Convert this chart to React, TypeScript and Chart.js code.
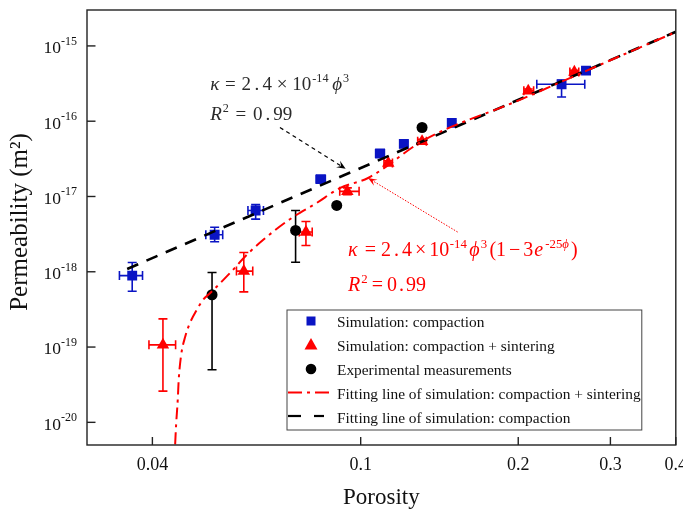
import React, { useEffect, useRef } from "react";
import { Chart, registerables } from "chart.js";

Chart.register(...registerables);

// ---------- Data: Simulation: compaction ----------
const compPorosity = [0.0366, 0.0526, 0.063, 0.0839, 0.1089, 0.1209, 0.1493, 0.242, 0.2695];
const compPerm = [8.9e-19, 3.1e-18, 6.5e-18, 1.7e-17, 3.72e-17, 5.0e-17, 9.5e-17, 3.1e-16, 4.7e-16];
const compPorosityLow = [0.0346, 0.0506, 0.0609, 0.0822, 0.1068, 0.1188, 0.147, 0.217, 0.265];
const compPorosityHigh = [0.0383, 0.0545, 0.0652, 0.0856, 0.111, 0.123, 0.1515, 0.268, 0.274];
const compPermLow = [5.5e-19, 2.5e-18, 5.0e-18, 1.58e-17, 3.45e-17, 4.65e-17, 8.9e-17, 2.1e-16, 4.45e-16];
const compPermHigh = [1.33e-18, 3.9e-18, 7.8e-18, 1.83e-17, 4.0e-17, 5.35e-17, 1.01e-16, 3.5e-16, 4.95e-16];

// ---------- Data: Simulation: compaction + sintering ----------
const sintPorosity = [0.0419, 0.0598, 0.0786, 0.0943, 0.1129, 0.131, 0.209, 0.256];
const sintPerm = [1.07e-19, 1.02e-18, 3.37e-18, 1.17e-17, 2.78e-17, 5.4e-17, 2.53e-16, 4.5e-16];
const sintPorosityLow = [0.0394, 0.0579, 0.0763, 0.0912, 0.1108, 0.1285, 0.205, 0.251];
const sintPorosityHigh = [0.0443, 0.0622, 0.0808, 0.0993, 0.115, 0.1335, 0.214, 0.261];
const sintPermLow = [2.6e-20, 5.4e-19, 2.23e-18, 1.06e-17, 2.6e-17, 5.05e-17, 2.38e-16, 4.25e-16];
const sintPermHigh = [2.37e-19, 1.8e-18, 4.66e-18, 1.3e-17, 2.98e-17, 5.75e-17, 2.68e-16, 4.75e-16];

// ---------- Data: Experimental measurements ----------
const expPorosity = [0.052, 0.0751, 0.09, 0.131];
const expPerm = [4.95e-19, 3.54e-18, 7.6e-18, 8.25e-17];
const expPermLow = [5.0e-20, 1.34e-18, null, null];
const expPermHigh = [9.8e-19, 6.5e-18, null, null];

// ---------- Fitting lines ----------
const fitCompPorosity = [0.0358, 0.4];
const fitCompPerm = [1.09e-18, 1.54e-15];
const fitSintPorosity = [0.04421, 0.0444, 0.04472, 0.04491, 0.0454, 0.04622, 0.04703, 0.04864, 0.05, 0.05159, 0.05628, 0.06058, 0.06515, 0.07325, 0.08233, 0.0912, 0.1033, 0.1324, 0.2, 0.3, 0.4];
const fitSintPerm = [5.1e-21, 9.3e-21, 2.0e-20, 3.68e-20, 7.9e-20, 1.38e-19, 1.98e-19, 3.13e-19, 4.25e-19, 5.21e-19, 9.62e-19, 1.68e-18, 2.66e-18, 4.99e-18, 8.17e-18, 1.29e-17, 1.76e-17, 5.66e-17, 1.88e-16, 6.45e-16, 1.53e-15];

// ---------- Axes ----------
const xTickValues = [0.04, 0.1, 0.2, 0.3, 0.4];
const xTickLabels = ["0.04", "0.1", "0.2", "0.3", "0.4"];
const yTickValues = [1e-20, 1e-19, 1e-18, 1e-17, 1e-16, 1e-15];
const yTickExponents = ["-20", "-19", "-18", "-17", "-16", "-15"];
const xTitle = "Porosity";
const yTitle = "Permeability (m²)";

const legendLabels = [
  "Simulation: compaction",
  "Simulation: compaction + sintering",
  "Experimental measurements",
  "Fitting line of simulation: compaction + sintering",
  "Fitting line of simulation: compaction",
];

// annotation anchors (data space)
const blackNoteAt = [0.0516, 2.61e-16];
const blackR2At = [0.0516, 1.04e-16];
const blackArrowFrom = [0.0701, 8.25e-17];
const blackArrowTo = [0.0936, 2.33e-17];
const redNoteAt = [0.0946, 1.61e-18];
const redR2At = [0.0946, 5.5e-19];
const redArrowFrom = [0.1532, 3.37e-18];
const redArrowTo = [0.1033, 1.76e-17];

const BLUE = "rgb(10,20,196)";
const RED = "#ff0000";
const BLACK = "#000000";
const SERIF = '"Liberation Serif", "DejaVu Serif", serif';

type Seg = { t: string; it?: boolean; sup?: boolean; gap?: number };

function drawRich(ctx: CanvasRenderingContext2D, x: number, y: number, segs: Seg[], size: number, color: string) {
  let cx = x;
  ctx.fillStyle = color;
  ctx.textAlign = "left";
  ctx.textBaseline = "alphabetic";
  for (const s of segs) {
    const fs = s.sup ? size * 0.64 : size;
    ctx.font = `${s.it ? "italic " : ""}${fs}px ${SERIF}`;
    cx += (s.gap || 0) * size;
    ctx.fillText(s.t, cx, s.sup ? y - size * 0.42 : y);
    cx += ctx.measureText(s.t).width;
  }
  return cx - x;
}

function arrow(ctx: CanvasRenderingContext2D, x1: number, y1: number, x2: number, y2: number, color: string, dash: number[], lw: number, hl: number, hw: number) {
  const a = Math.atan2(y2 - y1, x2 - x1);
  ctx.save();
  ctx.strokeStyle = color;
  ctx.fillStyle = color;
  ctx.lineWidth = lw;
  ctx.setLineDash(dash);
  ctx.beginPath();
  ctx.moveTo(x1, y1);
  ctx.lineTo(x2 - Math.cos(a) * hl * 0.7, y2 - Math.sin(a) * hl * 0.7);
  ctx.stroke();
  ctx.setLineDash([]);
  ctx.beginPath();
  ctx.moveTo(x2, y2);
  ctx.lineTo(x2 - Math.cos(a) * hl + Math.sin(a) * hw, y2 - Math.sin(a) * hl - Math.cos(a) * hw);
  ctx.lineTo(x2 - Math.cos(a) * hl * 0.6, y2 - Math.sin(a) * hl * 0.6);
  ctx.lineTo(x2 - Math.cos(a) * hl - Math.sin(a) * hw, y2 - Math.sin(a) * hl + Math.cos(a) * hw);
  ctx.closePath();
  ctx.fill();
  ctx.restore();
}

const errorSeries = [
  { xs: compPorosity, ys: compPerm, xl: compPorosityLow, xh: compPorosityHigh, yl: compPermLow, yh: compPermHigh, color: BLUE },
  { xs: sintPorosity, ys: sintPerm, xl: sintPorosityLow, xh: sintPorosityHigh, yl: sintPermLow, yh: sintPermHigh, color: RED },
  { xs: expPorosity, ys: expPerm, xl: null, xh: null, yl: expPermLow, yh: expPermHigh, color: BLACK },
];

const customPlugin = {
  id: "custom",
  beforeDatasetsDraw(chart: any) {
    const ctx: CanvasRenderingContext2D = chart.ctx;
    const xs = chart.scales.x;
    const ys = chart.scales.y;
    const ca = chart.chartArea;
    ctx.save();
    ctx.beginPath();
    ctx.rect(ca.left, ca.top, ca.right - ca.left, ca.bottom - ca.top);
    ctx.clip();
    ctx.lineWidth = 1.6;
    const cap = 4.5;
    for (const s of errorSeries) {
      ctx.strokeStyle = s.color;
      for (let i = 0; i < s.xs.length; i++) {
        const px = xs.getPixelForValue(s.xs[i]);
        const py = ys.getPixelForValue(s.ys[i]);
        if (s.xl && s.xh) {
          const a = xs.getPixelForValue(s.xl[i]);
          const b = xs.getPixelForValue(s.xh[i]);
          ctx.beginPath();
          ctx.moveTo(a, py); ctx.lineTo(b, py);
          ctx.moveTo(a, py - cap); ctx.lineTo(a, py + cap);
          ctx.moveTo(b, py - cap); ctx.lineTo(b, py + cap);
          ctx.stroke();
        }
        if (s.yl && s.yh && s.yl[i] != null && s.yh[i] != null) {
          const a = ys.getPixelForValue(s.yl[i]);
          const b = ys.getPixelForValue(s.yh[i]);
          ctx.beginPath();
          ctx.moveTo(px, a); ctx.lineTo(px, b);
          ctx.moveTo(px - cap, a); ctx.lineTo(px + cap, a);
          ctx.moveTo(px - cap, b); ctx.lineTo(px + cap, b);
          ctx.stroke();
        }
      }
    }
    ctx.restore();
  },
  afterDatasetsDraw(chart: any) {
    const ctx: CanvasRenderingContext2D = chart.ctx;
    const xs = chart.scales.x;
    const ys = chart.scales.y;
    const ca = chart.chartArea;
    const P = (p: number[]) => [xs.getPixelForValue(p[0]), ys.getPixelForValue(p[1])];
    ctx.save();

    // frame
    ctx.strokeStyle = "#222";
    ctx.lineWidth = 1.4;
    ctx.setLineDash([]);
    ctx.strokeRect(ca.left, ca.top, ca.right - ca.left, ca.bottom - ca.top);

    // x ticks (inward) + labels
    ctx.fillStyle = "#111";
    ctx.font = `18px ${SERIF}`;
    ctx.textAlign = "center";
    ctx.textBaseline = "alphabetic";
    xTickValues.forEach((v, i) => {
      const px = xs.getPixelForValue(v);
      ctx.beginPath();
      ctx.moveTo(px, ca.bottom);
      ctx.lineTo(px, ca.bottom - 8);
      ctx.stroke();
      ctx.fillText(xTickLabels[i], px, ca.bottom + 25);
    });

    // y ticks (inward) + labels with superscripts
    yTickValues.forEach((v, i) => {
      const py = ys.getPixelForValue(v);
      ctx.beginPath();
      ctx.moveTo(ca.left, py);
      ctx.lineTo(ca.left + 8.5, py);
      ctx.stroke();
      ctx.font = `12px ${SERIF}`;
      const supW = ctx.measureText(yTickExponents[i]).width;
      ctx.font = `17.5px ${SERIF}`;
      const baseW = ctx.measureText("10").width;
      const right = ca.left - 10;
      ctx.textAlign = "left";
      ctx.fillStyle = "#111";
      ctx.fillText("10", right - supW - baseW, py + 7.3);
      ctx.font = `12px ${SERIF}`;
      ctx.fillText(yTickExponents[i], right - supW, py - 1);
    });

    // axis titles
    ctx.fillStyle = "#111";
    ctx.font = `23px ${SERIF}`;
    ctx.textAlign = "center";
    ctx.fillText(xTitle, (ca.left + ca.right) / 2, ca.bottom + 59);
    ctx.save();
    ctx.translate(27, 222);
    ctx.rotate(-Math.PI / 2);
    ctx.font = `25px ${SERIF}`;
    ctx.fillText(yTitle, 0, 0);
    ctx.restore();

    // annotations: black fit
    const bn = P(blackNoteAt);
    drawRich(ctx, bn[0], bn[1], [
      { t: "κ", it: true },
      { t: "=", gap: 0.3 },
      { t: "2", gap: 0.3 },
      { t: ".", gap: 0.18 },
      { t: "4", gap: 0.18 },
      { t: "×", gap: 0.25 },
      { t: "10", gap: 0.25 },
      { t: "-14", sup: true, gap: 0.05 },
      { t: "ϕ", it: true, gap: 0.2 },
      { t: "3", sup: true, gap: 0.05 },
    ], 19, "#2a2a2a");
    const br = P(blackR2At);
    drawRich(ctx, br[0], br[1], [
      { t: "R", it: true },
      { t: "2", sup: true, gap: 0.05 },
      { t: "=", gap: 0.35 },
      { t: "0", gap: 0.35 },
      { t: ".", gap: 0.16 },
      { t: "9", gap: 0.16 },
      { t: "9" },
    ], 19, "#2a2a2a");
    const ba = P(blackArrowFrom);
    const bb = P(blackArrowTo);
    arrow(ctx, ba[0], ba[1], bb[0], bb[1], BLACK, [4, 3.5], 1.2, 9, 3.8);

    // annotations: red fit
    const rn = P(redNoteAt);
    drawRich(ctx, rn[0], rn[1], [
      { t: "κ", it: true },
      { t: "=", gap: 0.35 },
      { t: "2", gap: 0.25 },
      { t: ".", gap: 0.15 },
      { t: "4", gap: 0.15 },
      { t: "×", gap: 0.15 },
      { t: "10", gap: 0.15 },
      { t: "-14", sup: true, gap: 0.03 },
      { t: "ϕ", it: true, gap: 0.12 },
      { t: "3", sup: true, gap: 0.05 },
      { t: "(1", gap: 0.12 },
      { t: "−", gap: 0.15 },
      { t: "3", gap: 0.15 },
      { t: "e", it: true, gap: 0.05 },
      { t: "-25", sup: true, gap: 0.1 },
      { t: "ϕ", sup: true, it: true },
      { t: ")", gap: 0.1 },
    ], 20, RED);
    const rr = P(redR2At);
    drawRich(ctx, rr[0], rr[1], [
      { t: "R", it: true },
      { t: "2", sup: true, gap: 0.05 },
      { t: "=", gap: 0.2 },
      { t: "0", gap: 0.2 },
      { t: ".", gap: 0.1 },
      { t: "9", gap: 0.1 },
      { t: "9" },
    ], 20, RED);
    const ra = P(redArrowFrom);
    const rb = P(redArrowTo);
    arrow(ctx, ra[0], ra[1], rb[0], rb[1], RED, [1.5, 1.5], 1, 9, 3.5);

    // legend
    const L = ca.left + 200;
    const T = ca.bottom - 135;
    const R = ca.right - 34;
    const B = ca.bottom - 15;
    ctx.fillStyle = "#fff";
    ctx.fillRect(L, T, R - L, B - T);
    ctx.strokeStyle = "#444";
    ctx.lineWidth = 1;
    ctx.strokeRect(L, T, R - L, B - T);
    const sx = L + 24;
    const tx = L + 50;
    ctx.font = `15.4px ${SERIF}`;
    ctx.textAlign = "left";
    legendLabels.forEach((lab, i) => {
      const base = T + 16.5 + i * 24;
      const cy = base - 5.5;
      if (i === 0) {
        ctx.fillStyle = BLUE;
        ctx.fillRect(sx - 4.5, cy - 4.5, 9, 9);
      } else if (i === 1) {
        ctx.fillStyle = RED;
        ctx.beginPath();
        ctx.moveTo(sx, cy - 7);
        ctx.lineTo(sx + 6.5, cy + 4.5);
        ctx.lineTo(sx - 6.5, cy + 4.5);
        ctx.closePath();
        ctx.fill();
      } else if (i === 2) {
        ctx.fillStyle = BLACK;
        ctx.beginPath();
        ctx.arc(sx, cy, 5.3, 0, Math.PI * 2);
        ctx.fill();
      } else if (i === 3) {
        ctx.strokeStyle = RED;
        ctx.lineWidth = 2;
        ctx.setLineDash([14, 5, 3, 5]);
        ctx.beginPath();
        ctx.moveTo(L + 1, cy - 0.5);
        ctx.lineTo(L + 44, cy - 0.5);
        ctx.stroke();
        ctx.setLineDash([]);
      } else {
        ctx.strokeStyle = BLACK;
        ctx.lineWidth = 2.2;
        ctx.setLineDash([13, 13]);
        ctx.beginPath();
        ctx.moveTo(L + 1, cy - 1);
        ctx.lineTo(L + 37, cy - 1);
        ctx.stroke();
        ctx.setLineDash([]);
      }
      ctx.fillStyle = "#111";
      ctx.fillText(lab, tx, base);
    });

    ctx.restore();
  },
};

export default function App() {
  const ref = useRef<HTMLCanvasElement | null>(null);
  useEffect(() => {
    if (!ref.current) return;
    const toXY = (xa: number[], ya: number[]) => xa.map((x, i) => ({ x, y: ya[i] }));
    const chart = new Chart(ref.current, {
      type: "scatter",
      data: {
        datasets: [
          {
            label: legendLabels[3],
            data: toXY(fitSintPorosity, fitSintPerm),
            showLine: true,
            borderColor: RED,
            borderWidth: 2,
            borderDash: [12, 5, 3, 5],
            pointRadius: 0,
            cubicInterpolationMode: "monotone",
            fill: false,
          } as any,
          {
            label: legendLabels[4],
            data: toXY(fitCompPorosity, fitCompPerm),
            showLine: true,
            borderColor: BLACK,
            borderWidth: 2.6,
            borderDash: [12, 9],
            pointRadius: 0,
            fill: false,
          },
          {
            label: legendLabels[0],
            data: toXY(compPorosity, compPerm),
            pointStyle: "rect",
            pointRadius: 7,
            backgroundColor: BLUE,
            borderColor: BLUE,
            borderWidth: 0,
          },
          {
            label: legendLabels[1],
            data: toXY(sintPorosity, sintPerm),
            pointStyle: "triangle",
            pointRadius: 7.2,
            backgroundColor: RED,
            borderColor: RED,
            borderWidth: 0,
          },
          {
            label: legendLabels[2],
            data: toXY(expPorosity, expPerm),
            pointStyle: "circle",
            pointRadius: 5.5,
            backgroundColor: BLACK,
            borderColor: BLACK,
            borderWidth: 0,
          },
        ],
      },
      options: {
        animation: false,
        responsive: true,
        maintainAspectRatio: false,
        layout: { padding: { left: 87, top: 10, right: 6, bottom: 66 } },
        scales: {
          x: { type: "logarithmic", min: 0.03, max: 0.4, display: false },
          y: { type: "logarithmic", min: 5e-21, max: 3e-15, display: false },
        },
        plugins: {
          legend: { display: false },
          tooltip: { enabled: false },
        },
        events: [],
      },
      plugins: [customPlugin],
    });
    return () => chart.destroy();
  }, []);
  return (
    <div style={{ position: "fixed", left: 0, top: 0, width: 683, height: 511, background: "#fff" }}>
      <canvas ref={ref} />
    </div>
  );
}
